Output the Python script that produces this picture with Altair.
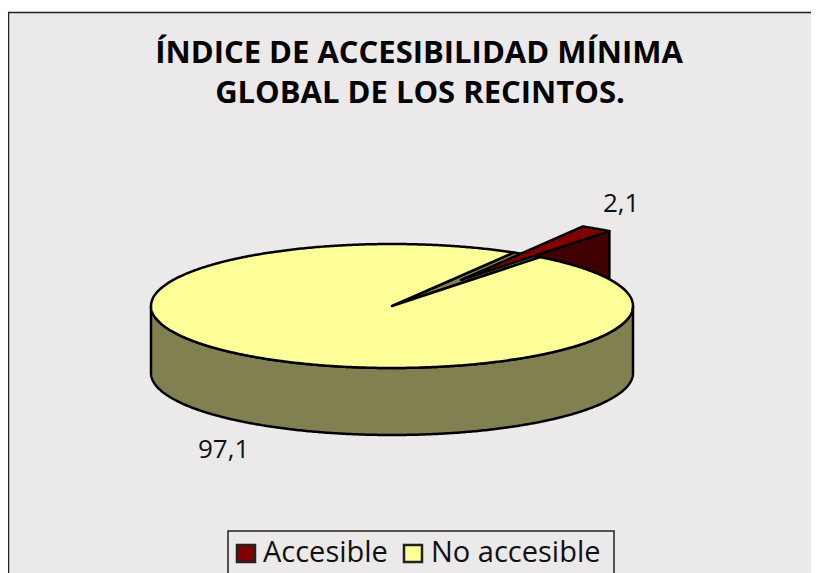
import numpy as np
import pandas as pd
import altair as alt

categories = ["Accesible", "No accesible"]
values = [2.1, 97.1]
value_labels = ["2,1", "97,1"]
title_lines = ["ÍNDICE DE ACCESIBILIDAD MÍNIMA", "GLOBAL DE LOS RECINTOS."]

cx, cy, rx, ry, depth = 392, 306, 241, 62, 67
off_x, off_y = 69, -26
start = 52.0
RED, RED_DARK, YELLOW, OLIVE, BG = "#800000", "#400000", "#ffff99", "#808050", "#ebe9e9"

sweep = 360 * values[0] / sum(values)
end = start + sweep


def arc(t0, t1, ox=0, oy=0):
    t = np.radians(np.linspace(t0, t1, max(2, int(abs(t1 - t0) * 2))))
    return list(zip(cx + ox + rx * np.cos(t), cy + oy - ry * np.sin(t)))


def shift(points, dy):
    return [(x, y + dy) for x, y in points]


X = alt.Scale(domain=[8, 811], nice=False, zero=False)
Y = alt.Scale(domain=[573, 8], nice=False, zero=False)


def polygon(points, fill):
    df = pd.DataFrame(points, columns=["x", "y"]).assign(i=range(len(points)))
    return alt.Chart(df).mark_line(
        fill=fill, stroke="black", strokeWidth=2.5, strokeJoin="round", interpolate="linear-closed", clip=True
    ).encode(
        x=alt.X("x:Q", scale=X, axis=None),
        y=alt.Y("y:Q", scale=Y, axis=None),
        order=alt.Order("i:Q"),
    )


def box(x0, y0, x1, y1, fill, width):
    df = pd.DataFrame([{"x": x0, "x2": x1, "y": y0, "y2": y1}])
    return alt.Chart(df).mark_rect(fill=fill, stroke="#222222", strokeWidth=width, clip=True).encode(
        x=alt.X("x:Q", scale=X, axis=None), x2="x2:Q",
        y=alt.Y("y:Q", scale=Y, axis=None), y2="y2:Q",
    )


def text(s, x, y, size, font="Open Sans", weight="normal", align="left", color="#111111"):
    df = pd.DataFrame([{"x": x, "y": y, "t": s}])
    return alt.Chart(df).mark_text(
        text=s, font=font, fontSize=size, fontWeight=weight, align=align, baseline="alphabetic", color=color
    ).encode(x=alt.X("x:Q", scale=X, axis=None), y=alt.Y("y:Q", scale=Y, axis=None))


apex = (cx, cy)
apex2 = (cx + off_x, cy + off_y)

frame = box(8.5, 12.5, 900, 700, BG, 1.5)
wall_top = arc(180, 360)
wall = polygon(wall_top + shift(wall_top, depth)[::-1], OLIVE)
red_arc = arc(start, end, off_x, off_y)
red_side = polygon(
    [apex2, red_arc[0]] + [(red_arc[0][0], red_arc[0][1] + depth), (apex2[0], apex2[1] + depth)], RED_DARK
)
sliver = polygon([apex] + arc(start, end), OLIVE)
top = polygon([apex] + arc(end, start + 360), YELLOW)
red_top = polygon([apex2] + red_arc, RED)

legend_box = box(228, 531, 614, 700, BG, 1.5)
sq1 = box(237, 545, 255, 562, RED, 2.5)
sq2 = box(404, 545, 422, 562, YELLOW, 2.5)

chart = alt.layer(
    frame, wall, red_side, sliver, top, red_top,
    text(title_lines[0], 419, 63, 31, "Open Sans", "bold", "center", "black"),
    text(title_lines[1], 420, 103, 31, "Open Sans", "bold", "center", "black"),
    text(value_labels[0], 603, 212, 26),
    text(value_labels[1], 198, 458, 26),
    legend_box, sq1, sq2,
    text(categories[0], 263, 562, 29),
    text(categories[1], 431, 562, 29),
).properties(
    width=803, height=565, padding=0, autosize=alt.AutoSizeParams(type="none")
).configure_view(stroke=None)

chart.save("out.html", embed_options={"renderer": "svg", "actions": False})
